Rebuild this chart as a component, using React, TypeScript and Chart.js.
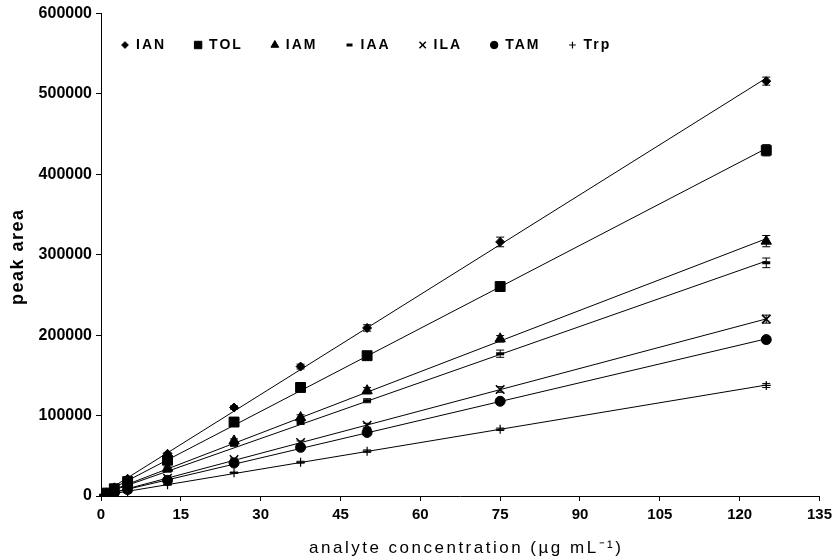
import React, { useEffect, useRef } from 'react';
import { Chart, registerables } from 'chart.js';
import { drawPoint } from 'chart.js/helpers';

Chart.register(...registerables);

const concentrations = [0.5, 1, 2.5, 5, 12.5, 25, 37.5, 50, 75, 125];

const IAN = [2100, 4300, 10800, 21500, 52500, 110000, 161000, 209000, 316000, 516000];
const TOL = [1800, 3600, 9000, 18000, 44500, 92000, 135000, 174500, 260500, 430000];
const IAM = [1400, 2700, 7000, 14000, 34500, 68500, 97500, 131000, 195500, 317000];
const IAA = [1200, 2400, 6200, 12500, 31000, 63500, 91500, 118500, 177000, 290000];
const ILA = [900, 1800, 4500, 9000, 22000, 45500, 66500, 88000, 132500, 220000];
const TAM = [800, 1600, 4000, 8000, 19500, 41000, 60500, 79000, 117800, 194500];
const Trp = [550, 1100, 2800, 5600, 14000, 29000, 42000, 55800, 83000, 137500];

const IAN_err = [200, 300, 500, 800, 1500, 2000, 3000, 4000, 6000, 5000];
const TOL_err = [200, 300, 400, 700, 1200, 1800, 2500, 3000, 2500, 7000];
const IAM_err = [150, 200, 400, 600, 1500, 2500, 3500, 4000, 4000, 7000];
const IAA_err = [150, 200, 300, 500, 1000, 1500, 2500, 2500, 4500, 6000];
const ILA_err = [100, 150, 300, 400, 800, 1500, 2000, 2500, 3500, 5000];
const TAM_err = [100, 150, 200, 300, 600, 1000, 1500, 2000, 1500, 3500];
const Trp_err = [50, 100, 150, 250, 500, 800, 1200, 1500, 1500, 2500];

const seriesNames = ['IAN', 'TOL', 'IAM', 'IAA', 'ILA', 'TAM', 'Trp'];
const seriesValues = [IAN, TOL, IAM, IAA, ILA, TAM, Trp];
const seriesErrors = [IAN_err, TOL_err, IAM_err, IAA_err, ILA_err, TAM_err, Trp_err];

const xTickMax = 135;
const xTickStep = 15;
const yTickMax = 600000;
const yTickStep = 100000;

const xTitle = 'analyte concentration (µg mL⁻¹)';
const yTitle = 'peak area';

const markerStyles: any[] = [
  { pointStyle: 'rectRot', radius: 4.5, borderWidth: 1 },
  { pointStyle: 'rect', radius: 7, borderWidth: 1 },
  { pointStyle: 'triangle', radius: 6, borderWidth: 1 },
  { pointStyle: 'line', radius: 4, borderWidth: 3 },
  { pointStyle: 'crossRot', radius: 6, borderWidth: 1.5 },
  { pointStyle: 'circle', radius: 5, borderWidth: 1 },
  { pointStyle: 'cross', radius: 4.5, borderWidth: 1.2 },
];

function linearFit(xs: number[], ys: number[]) {
  const n = xs.length;
  let sx = 0, sy = 0, sxx = 0, sxy = 0;
  for (let i = 0; i < n; i++) {
    sx += xs[i]; sy += ys[i]; sxx += xs[i] * xs[i]; sxy += xs[i] * ys[i];
  }
  const slope = (n * sxy - sx * sy) / (n * sxx - sx * sx);
  const intercept = (sy - slope * sx) / n;
  return { slope, intercept };
}

const FONT = "'Liberation Sans', Arial, sans-serif";

const errorBarPlugin = {
  id: 'errorBars',
  afterDatasetsDraw(chart: any) {
    const ctx = chart.ctx;
    const xs = chart.scales.x;
    const ys = chart.scales.y;
    ctx.save();
    ctx.strokeStyle = '#000';
    ctx.lineWidth = 1;
    seriesValues.forEach((vals, si) => {
      const errs = seriesErrors[si];
      vals.forEach((v, i) => {
        const px = xs.getPixelForValue(concentrations[i]);
        const top = ys.getPixelForValue(v + errs[i]);
        const bot = ys.getPixelForValue(v - errs[i]);
        ctx.beginPath();
        ctx.moveTo(px, top); ctx.lineTo(px, bot);
        ctx.moveTo(px - 4, top); ctx.lineTo(px + 4, top);
        ctx.moveTo(px - 4, bot); ctx.lineTo(px + 4, bot);
        ctx.stroke();
      });
    });
    ctx.restore();
  },
};

const textPlugin = {
  id: 'customText',
  afterDraw(chart: any) {
    const ctx = chart.ctx;
    const area = chart.chartArea;
    ctx.save();
    ctx.fillStyle = '#000';
    ctx.strokeStyle = '#000';
    (ctx as any).letterSpacing = '2px';
    // legend
    ctx.font = `bold 14px ${FONT}`;
    ctx.textBaseline = 'middle';
    ctx.textAlign = 'left';
    let cx = area.left + 20;
    const ly = 45;
    seriesNames.forEach((name, i) => {
      const m = markerStyles[i];
      ctx.lineWidth = m.borderWidth;
      drawPoint(ctx, { pointStyle: m.pointStyle, radius: m.radius * 0.75, borderWidth: m.borderWidth, rotation: 0 } as any, cx + 4, ly);
      ctx.fillText(name, cx + 15, ly);
      cx += 15 + ctx.measureText(name).width + 28;
    });
    // x title
    (ctx as any).letterSpacing = '2.5px';
    ctx.font = `17px ${FONT}`;
    ctx.textAlign = 'center';
    ctx.textBaseline = 'middle';
    ctx.fillText(xTitle, (area.left + area.right) / 2 + 6, 548);
    // y title
    (ctx as any).letterSpacing = '1.5px';
    ctx.font = `bold 18px ${FONT}`;
    ctx.translate(18, (area.top + area.bottom) / 2 + 2);
    ctx.rotate(-Math.PI / 2);
    ctx.fillText(yTitle, 0, 0);
    ctx.restore();
  },
};

export default function App() {
  const ref = useRef<HTMLCanvasElement>(null);
  useEffect(() => {
    if (!ref.current) return;
    const datasets: any[] = [];
    seriesValues.forEach((vals, si) => {
      const fit = linearFit(concentrations, vals);
      const x0 = concentrations[0];
      const x1 = concentrations[concentrations.length - 1];
      datasets.push({
        label: seriesNames[si] + ' fit',
        data: [
          { x: x0, y: fit.slope * x0 + fit.intercept },
          { x: x1, y: fit.slope * x1 + fit.intercept },
        ],
        showLine: true,
        pointRadius: 0,
        borderColor: '#000',
        borderWidth: 1,
        order: 2,
      });
    });
    seriesValues.forEach((vals, si) => {
      const m = markerStyles[si];
      datasets.push({
        label: seriesNames[si],
        data: vals.map((v, i) => ({ x: concentrations[i], y: v })),
        showLine: false,
        pointStyle: m.pointStyle,
        pointRadius: m.radius,
        pointBorderWidth: m.borderWidth,
        backgroundColor: '#000',
        borderColor: '#000',
        order: 0,
      });
    });
    const chart = new Chart(ref.current, {
      type: 'scatter',
      data: { datasets },
      options: {
        animation: false,
        responsive: false,
        layout: { padding: { left: 0, right: 15, top: 12, bottom: 0 } },
        plugins: {
          legend: { display: false },
          tooltip: { enabled: false },
        },
        scales: {
          x: {
            type: 'linear',
            min: 0,
            max: xTickMax,
            afterFit: (s: any) => { s.height = 64; },
            ticks: { stepSize: xTickStep, color: '#000', padding: 5, font: { family: FONT, size: 15, weight: 'bold' } },
            grid: { display: true, drawOnChartArea: false, drawTicks: true, tickLength: 5, color: '#000' },
            border: { display: true, color: '#000', width: 1 },
          },
          y: {
            type: 'linear',
            min: 0,
            max: yTickMax,
            afterFit: (s: any) => { s.width = 101; },
            ticks: { stepSize: yTickStep, color: '#000', padding: 4, font: { family: FONT, size: 16, weight: 'bold' }, callback: (v: any) => String(v) },
            grid: { display: true, drawOnChartArea: false, drawTicks: true, tickLength: 5, color: '#000' },
            border: { display: true, color: '#000', width: 1 },
          },
        },
      },
      plugins: [errorBarPlugin, textPlugin],
    });
    return () => chart.destroy();
  }, []);
  return (
    <div style={{ position: 'absolute', left: 0, top: 0, width: 837, height: 560, background: '#fff' }}>
      <canvas ref={ref} width={837} height={560} style={{ width: 837, height: 560 }} />
    </div>
  );
}
